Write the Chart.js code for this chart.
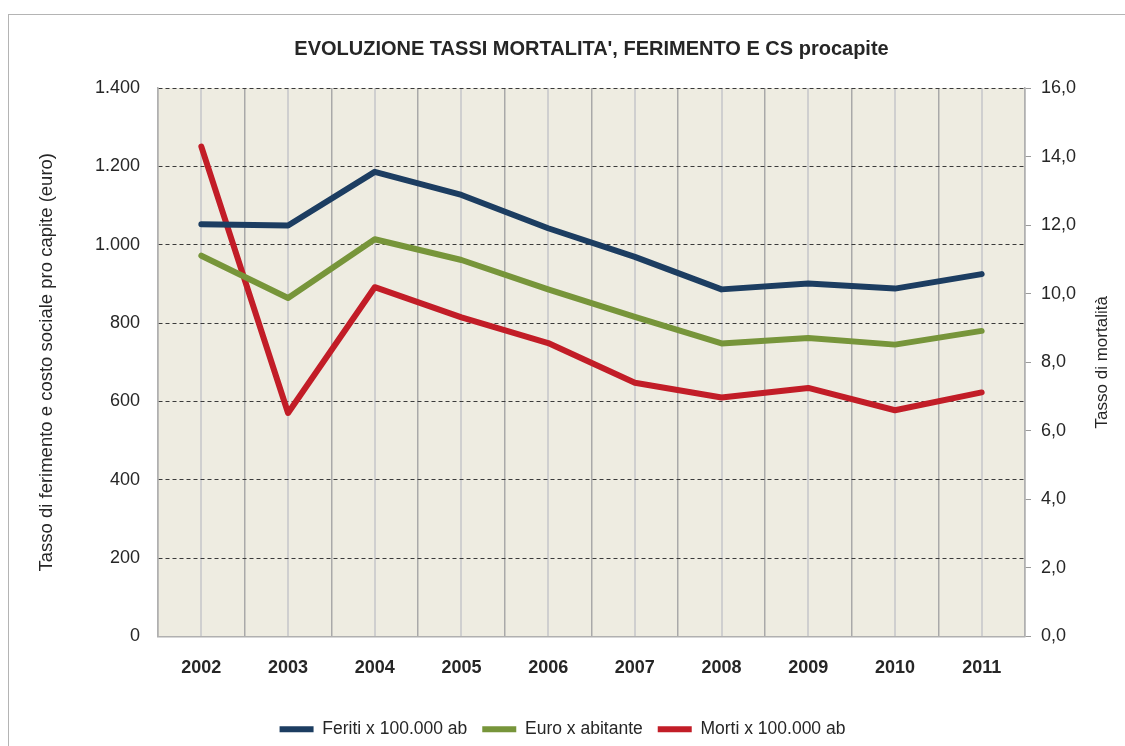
<!DOCTYPE html>
<html><head><meta charset="utf-8">
<script src="https://cdn.jsdelivr.net/npm/chart.js@4"></script>
<style>
html,body{margin:0;padding:0;background:#fff;width:1125px;height:746px;overflow:hidden}
#frame{position:absolute;left:8px;top:14px;width:1200px;height:800px;border:1px solid #b4b4b4;box-sizing:border-box}
canvas{position:absolute;left:0;top:0}
</style></head><body>
<div id="frame"></div>
<canvas id="c" width="1125" height="746"></canvas>
<script>
const years = ['2002','2003','2004','2005','2006','2007','2008','2009','2010','2011'];
const feriti = [1052, 1049, 1186, 1127, 1042, 969, 886, 901, 888, 925];
const euro   = [972, 864, 1014, 961, 886, 816, 748, 762, 745, 780];
const morti  = [14.29, 6.52, 10.19, 9.31, 8.56, 7.40, 6.97, 7.25, 6.60, 7.12];
const leftAxis  = {min: 0, max: 1400, step: 200};
const rightAxis = {min: 0, max: 16, step: 2};
const titleText = "EVOLUZIONE TASSI MORTALITA', FERIMENTO E CS procapite";
const leftTitle = 'Tasso di ferimento e costo sociale pro capite (euro)';
const rightTitle = 'Tasso di mortalità';
const seriesNames = ['Feriti x 100.000 ab', 'Euro x abitante', 'Morti x 100.000 ab'];

const FONT = '"Liberation Sans", Arial, sans-serif';
const TXT = '#262626';

const bgPlugin = {
  id: 'plotBg',
  beforeDraw(chart) {
    const a = chart.chartArea, ctx = chart.ctx;
    ctx.save();
    ctx.fillStyle = '#EEECE1';
    ctx.fillRect(a.left, a.top, a.right - a.left, a.bottom - a.top);
    ctx.restore();
  }
};
const rightTitlePlugin = {
  id: 'rightTitle',
  afterDraw(chart) {
    const a = chart.chartArea, ctx = chart.ctx;
    ctx.save();
    ctx.translate(1102, (a.top + a.bottom) / 2);
    ctx.rotate(-Math.PI / 2);
    ctx.textAlign = 'center';
    ctx.textBaseline = 'middle';
    ctx.fillStyle = TXT;
    ctx.font = '17px ' + FONT;
    ctx.fillText(rightTitle, 0, 0);
    ctx.restore();
  }
};

const fmtLeft = v => String(v).replace(/\B(?=(\d{3})+(?!\d))/g, '.');
const fmtRight = v => Number(v).toFixed(1).replace('.', ',');

new Chart(document.getElementById('c'), {
  type: 'line',
  data: {
    labels: years,
    datasets: [
      {label: seriesNames[0], data: feriti, yAxisID: 'y', borderColor: '#1C3D61', backgroundColor: '#1C3D61'},
      {label: seriesNames[1], data: euro, yAxisID: 'y', borderColor: '#77953A', backgroundColor: '#77953A'},
      {label: seriesNames[2], data: morti, yAxisID: 'y2', borderColor: '#C21D27', backgroundColor: '#C21D27'}
    ].map(d => Object.assign(d, {borderWidth: 6, pointRadius: 0, tension: 0, borderCapStyle: 'round', borderJoinStyle: 'round', fill: false}))
  },
  options: {
    responsive: false,
    animation: false,
    layout: {padding: {left: 0, right: 0, top: 0, bottom: -2}},
    plugins: {
      tooltip: {enabled: false},
      title: {
        display: true, text: titleText, fullSize: false, color: TXT,
        font: {size: 20, weight: 'bold', family: FONT},
        padding: {top: 37, bottom: 27}
      },
      legend: {
        position: 'bottom',
        labels: {
          usePointStyle: true, pointStyle: 'line', pointStyleWidth: 34,
          color: TXT, font: {size: 17.5, family: FONT}, padding: 15
        }
      }
    },
    scales: {
      x: {
        type: 'category', position: 'bottom', offset: true,
        grid: {offset: true, color: '#A9A9A9', lineWidth: 1.5, drawTicks: false},
        border: {display: true, color: '#B0B0B0', width: 1.5},
        ticks: {color: TXT, font: {size: 18, weight: 'bold', family: FONT}, padding: 21, maxRotation: 0},
        afterFit: s => { s.height = 69; }
      },
      xc: {
        type: 'category', position: 'bottom', offset: true, labels: years,
        grid: {offset: false, color: '#CFCFCF', lineWidth: 2, drawTicks: false},
        border: {display: false},
        ticks: {display: false},
        afterFit: s => { s.height = 0; }
      },
      y: {
        position: 'left', min: leftAxis.min, max: leftAxis.max,
        ticks: {stepSize: leftAxis.step, callback: fmtLeft, color: TXT, font: {size: 18, family: FONT}, padding: 18},
        grid: {color: c => c.tick && c.tick.value === 0 ? 'rgba(0,0,0,0)' : '#3A3A3A', lineWidth: 1, drawTicks: false},
        border: {display: true, color: '#B0B0B0', width: 1.5, dash: [4, 3]},
        title: {display: true, text: leftTitle, color: TXT, font: {size: 18.5, family: FONT}, padding: {top: 36, bottom: 0}},
        afterFit: s => { s.width = 158; }
      },
      y2: {
        position: 'right', min: rightAxis.min, max: rightAxis.max,
        ticks: {stepSize: rightAxis.step, callback: fmtRight, color: TXT, font: {size: 18, family: FONT}, padding: 10},
        grid: {drawOnChartArea: false, drawTicks: true, tickLength: 6, color: '#9A9A9A'},
        border: {display: true, color: '#B0B0B0', width: 1.5},
        afterFit: s => { s.width = 100; }
      }
    }
  },
  plugins: [bgPlugin, rightTitlePlugin]
});
</script>
</body></html>
